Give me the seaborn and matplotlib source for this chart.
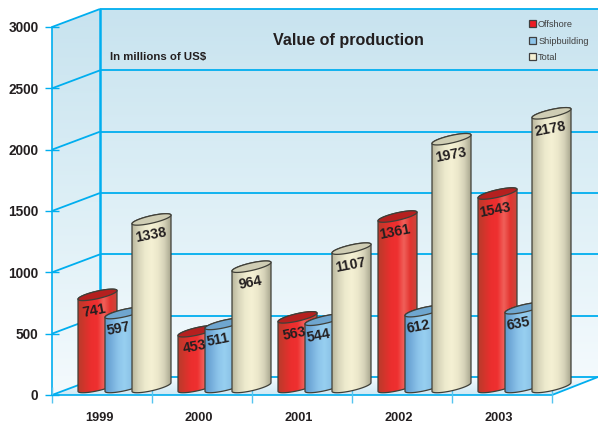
import matplotlib
matplotlib.use("Agg")
import matplotlib.pyplot as plt
import numpy as np
import pandas as pd
import seaborn as sns
from matplotlib.colors import LinearSegmentedColormap
from matplotlib.lines import Line2D
from matplotlib.patches import Patch, Polygon
from matplotlib.transforms import Affine2D, IdentityTransform

years = ["1999", "2000", "2001", "2002", "2003"]
offshore = [741, 453, 563, 1361, 1543]
shipbuilding = [597, 511, 544, 612, 635]
total = [1338, 964, 1107, 1973, 2178]
y_ticks = [0, 500, 1000, 1500, 2000, 2500, 3000]

W, H = 598, 425
LINE = "#00AEEF"
INK = "#231F20"
FONT = "Liberation Sans"

df = pd.DataFrame({
    "year": years * 3,
    "series": ["Offshore"] * 5 + ["Shipbuilding"] * 5 + ["Total"] * 5,
    "value": offshore + shipbuilding + total,
})

# colours for shading across a cylinder, left to right
shades = {
    "Offshore": ["#B93A2B", "#D2352C", "#EC2E2E", "#EE3030", "#F0605A", "#E2342F", "#C9483C"],
    "Shipbuilding": ["#5F9BCB", "#76AEDB", "#8CC4EA", "#97CFF0", "#8CC3E8", "#78AFDC", "#5F93C4"],
    "Total": ["#B9B69C", "#D8D5BB", "#EDEACD", "#F5F1D4", "#ECE8CB", "#D5D2B8", "#A9A78F"],
}
caps = {"Offshore": "#B5201F", "Shipbuilding": "#6FA6CF", "Total": "#CFCDB4"}
legend_cols = {"Offshore": "#ED1C24", "Shipbuilding": "#8CC4EA", "Total": "#F5F1D4"}

fig = plt.figure(figsize=(W / 100, H / 100), dpi=100)
ax = fig.add_axes([52 / W, (H - 395) / H, 500 / W, 368 / H])
ax.patch.set_alpha(0)

sns.barplot(data=df, x="year", y="value", hue="series", hue_order=list(shades),
            palette=legend_cols, width=0.81, gap=0, legend=False, ax=ax)
ax.set_xlim(-0.5, 4.5)
ax.set_ylim(0, 3000)


def img_pts(pts):
    # image pixels (y down) to display coords
    return [(x, H - y) for x, y in pts]


def gradient(colors, extent, clip, z, horizontal=True, alpha=1.0):
    cmap = LinearSegmentedColormap.from_list("g", colors)
    arr = np.linspace(0, 1, 128)
    arr = arr[None, :] if horizontal else arr[:, None]
    im = ax.imshow(arr, cmap=cmap, extent=extent, aspect="auto", origin="lower",
                   transform=IdentityTransform(), zorder=z, interpolation="bilinear", alpha=alpha)
    poly = Polygon(clip, closed=True, transform=IdentityTransform())
    im.set_clip_path(poly)
    im.set_clip_box(fig.bbox)


def line(pts, lw=1.5, z=1, color=LINE):
    xs, ys = zip(*img_pts(pts))
    ax.add_line(Line2D(xs, ys, color=color, lw=lw, transform=IdentityTransform(),
                       clip_on=False, zorder=z, solid_capstyle="butt"))


# walls and floor
wall_cols = ["#F4FAFD", "#DDEFF6", "#C8E3EF"]
back = img_pts([(100, 9), (598, 9), (598, 377), (100, 377)])
gradient(wall_cols, (100, 598, H - 377, H - 9), back, 0.1, horizontal=False)
side = img_pts([(52, 27), (100, 9), (100, 377), (52, 395)])
gradient(wall_cols, (52, 100, H - 395, H - 9), side, 0.1, horizontal=False)
floor = img_pts([(52, 395), (552, 395), (598, 377), (100, 377)])
gradient(["#CFE9F4", "#F6FBFD"], (52, 598, H - 395, H - 377), floor, 0.1, horizontal=False)

for v in y_ticks:
    y = H - ax.transData.transform((0, v))[1]
    line([(100, y - 18), (598, y - 18)], lw=1.3)
    line([(52, y), (100, y - 18)], lw=1.3)
line([(100, 9), (100, 377)], lw=1.8)
line([(552, 395), (598, 377)], lw=1.3)

# cylinders from the bars seaborn placed
A, TILT, B = 19.5, 0.22, 3.8
BASE = 387
TOP_BASE = 388.5
SHIFT = 22.5
t_low = np.linspace(np.pi, 2 * np.pi, 40)
t_up = np.linspace(0, np.pi, 40)
names = list(shades)
bars = ax.patches[:15]
label_dx = {"Offshore": -3, "Shipbuilding": -6, "Total": -1}
for i, bar in enumerate(bars):
    name = names[i // 5]
    bar.set_visible(False)
    cx = ax.transData.transform((bar.get_x() + bar.get_width() / 2, 0))[0] + SHIFT
    px0 = ax.transData.transform((0, 0))[1]
    px1 = ax.transData.transform((0, bar.get_height()))[1]
    base = H - BASE
    top = H - TOP_BASE + (px1 - px0) * 1.03
    z = 3 + i % 5 + i // 5 * 0.1

    lower = np.c_[cx + A * np.cos(t_low), base + A * TILT * np.cos(t_low) + B * np.sin(t_low)]
    upper = np.c_[cx + A * np.cos(t_up), top + A * TILT * np.cos(t_up) + B * np.sin(t_up)]
    body = np.r_[lower, upper]
    gradient(shades[name], (cx - A, cx + A, base - 20, top + 20), body, z)
    ax.add_patch(Polygon(body, closed=True, fill=False, ec="#3F3F38", lw=0.9,
                         transform=IdentityTransform(), clip_on=False, zorder=z + 0.01))
    t = np.linspace(0, 2 * np.pi, 80)
    cap = np.c_[cx + A * np.cos(t), top + A * TILT * np.cos(t) + B * np.sin(t)]
    ax.add_patch(Polygon(cap, closed=True, fc=caps[name], ec="#3F3F38", lw=0.9,
                         transform=IdentityTransform(), clip_on=False, zorder=z + 0.02))
    ax.text(cx + label_dx[name], top - 16, f"{int(bar.get_height())}", transform=IdentityTransform(),
            ha="center", va="center", rotation=11, fontsize=10.3, fontweight="bold",
            family=FONT, color=INK, zorder=20)

# axes
for s in ["top", "right"]:
    ax.spines[s].set_visible(False)
ax.spines["left"].set_color(LINE)
ax.spines["bottom"].set_color(LINE)
ax.spines["left"].set_linewidth(1.2)
ax.spines["bottom"].set_linewidth(1.2)
ax.spines["left"].set_bounds(0, 3000)
ax.spines["left"].set_zorder(2)
ax.spines["bottom"].set_zorder(2)
ax.set_axisbelow(False)
ax.set_yticks(y_ticks)
ax.set_xticks(np.arange(-0.5, 5), minor=True)
ax.tick_params(axis="y", direction="inout", length=10.5, width=1, color=LINE, pad=4.5)
ax.tick_params(axis="x", which="major", length=0, pad=12)
ax.tick_params(axis="x", which="minor", direction="inout", length=11, width=1, color="#55C5F0")
ax.set_xlabel("")
ax.set_ylabel("")
for lab in ax.get_yticklabels():
    lab.set(fontsize=9.8, fontweight="bold", family=FONT, color=INK)
ax.set_xticklabels(years)
nudge = Affine2D().translate(-3, 0)
for lab in ax.get_xticklabels():
    lab.set(fontsize=9.2, fontweight="bold", family=FONT, color=INK)
    lab.set_transform(lab.get_transform() + nudge)

# titles, drawn in image pixel positions
ax.text(348, H - 40, "Value of production", transform=IdentityTransform(), ha="center", va="center",
        fontsize=11.6, fontweight="bold", family=FONT, color=INK, zorder=20)
ax.text(110, H - 57, "In millions of US$", transform=IdentityTransform(), ha="left", va="center",
        fontsize=8.2, fontweight="bold", family=FONT, color=INK, zorder=20)

handles = [Patch(fc=legend_cols[n], ec="#3F3F3F", lw=0.9, label=n) for n in names]
leg = ax.legend(handles=handles, loc="upper left", bbox_to_anchor=(528.5 / W, (H - 20) / H),
                bbox_transform=fig.transFigure, frameon=False, handlelength=0.8,
                handleheight=0.8, handletextpad=0.25, labelspacing=0.82, borderpad=0, borderaxespad=0,
                prop={"family": FONT, "size": 6.6})
leg.set_zorder(20)
for txt in leg.get_texts():
    txt.set_color("#3F3F3F")

ax.set_xlim(-0.5, 4.5)
ax.set_ylim(0, 3000)
fig.savefig("out.png", dpi=100)
